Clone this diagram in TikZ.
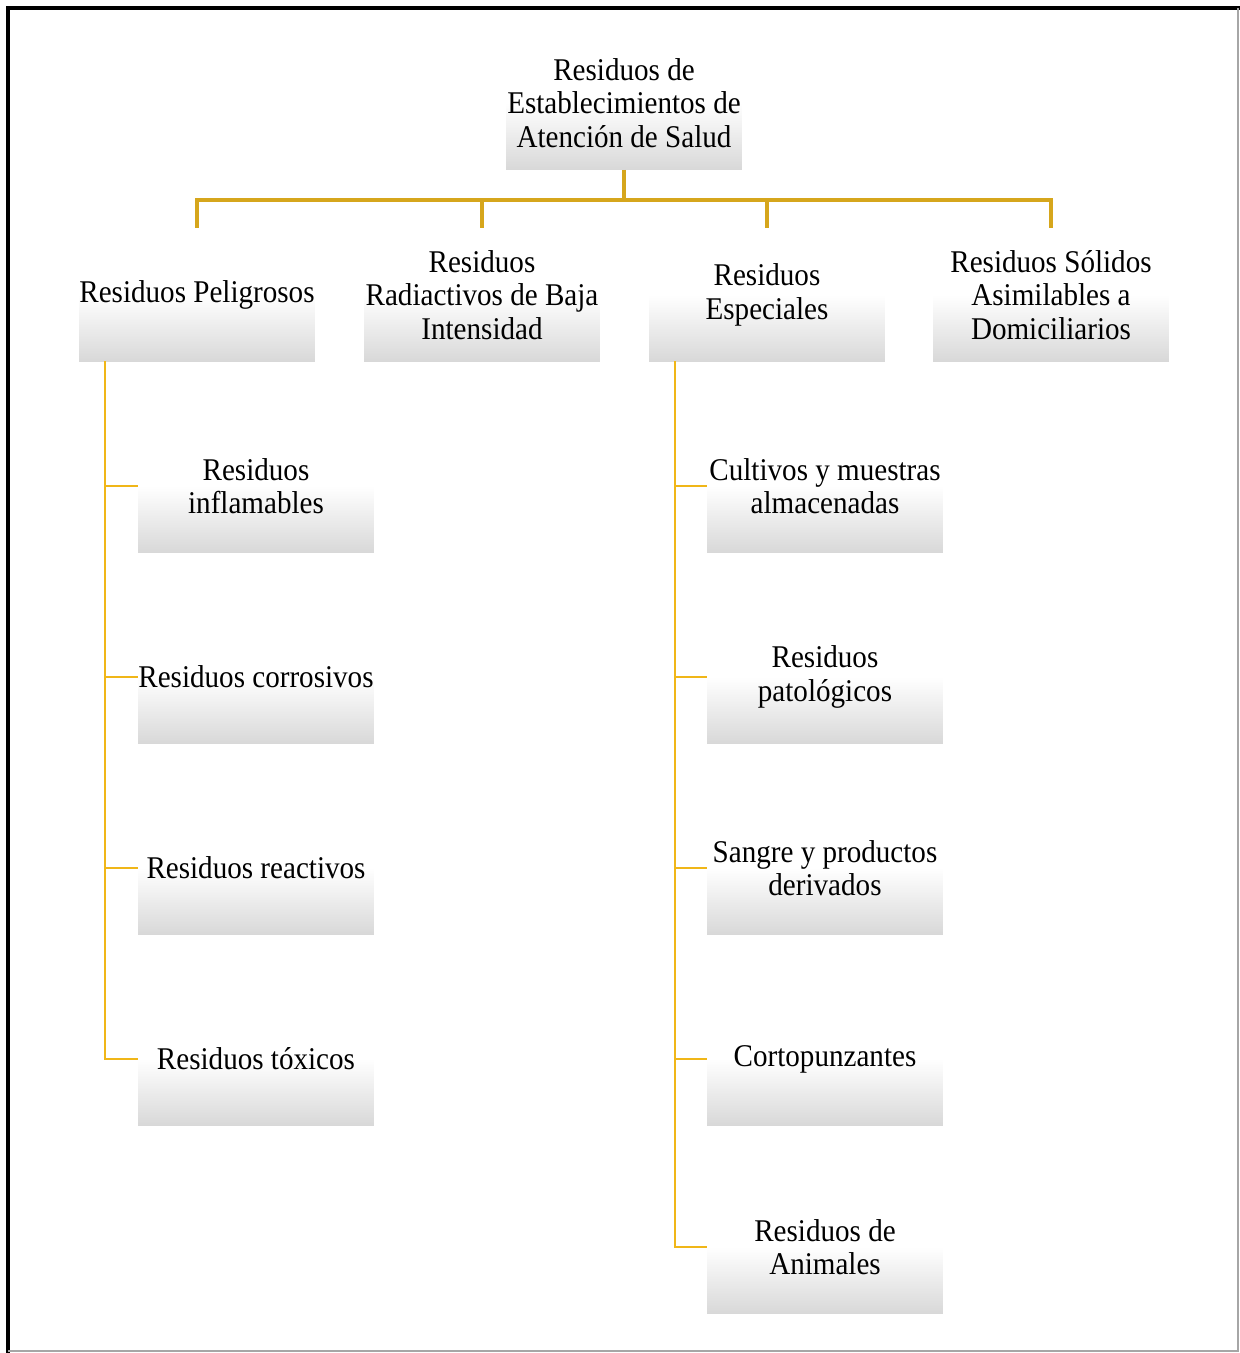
\documentclass[tikz,border=0pt]{standalone}
\usepackage{fontspec}
\setmainfont{Liberation Serif}[FakeStretch=0.92]
\usepackage{tikz}
\definecolor{linkgold}{RGB}{214,166,28}
\definecolor{stemgold}{RGB}{240,182,24}
\definecolor{boxgray}{RGB}{216,216,216}

\begin{document}
\begin{tikzpicture}[x=0.02cm,y=-0.02cm]
\tikzstyle{every node}+=[inner sep=0pt]
\tikzstyle{wbox}=[rectangle,minimum width=4.72cm,minimum height=2.66cm,
  top color=white,bottom color=boxgray,middle color=white,
  align=center,font=\fontsize{18}{19}\selectfont]
\tikzstyle{toplink}=[draw=linkgold,line width=2pt]
\tikzstyle{sublink}=[draw=stemgold,line width=1.5pt]
\useasboundingbox (0,0) rectangle (1240,1353);
% frame
\draw [black,line width=2.6pt] (8,1353) -- (8,8) -- (1240,8);
\draw [gray!70,line width=0.8pt] (1238,8) -- (1238,1351) -- (8,1351);
% root
\node [wbox] (root) at (624,103) {Residuos de\\Establecimientos de\\Atención de Salud};
% first level
\node [wbox] (pel) at (197,295) {Residuos Peligrosos};
\node [wbox] (rad) at (482,295) {Residuos\\Radiactivos de Baja\\Intensidad};
\node [wbox] (esp) at (767,295) {Residuos\\Especiales};
\node [wbox] (sol) at (1051,295) {Residuos Sólidos\\Asimilables a\\Domiciliarios};
% peligrosos
\node [wbox] (inf) at (256,486) {Residuos\\inflamables};
\node [wbox] (cor) at (256,677) {Residuos corrosivos};
\node [wbox] (rea) at (256,868) {Residuos reactivos};
\node [wbox] (tox) at (256,1059) {Residuos tóxicos};
% especiales
\node [wbox] (cul) at (825,486) {Cultivos y muestras\\almacenadas};
\node [wbox] (pat) at (825,677) {Residuos\\patológicos};
\node [wbox] (san) at (825,868) {Sangre y productos\\derivados};
\node [wbox] (cor2) at (825,1059) {Cortopunzantes};
\node [wbox] (ani) at (825,1247) {Residuos de\\Animales};
% links
\coordinate (bar) at (624,200);
\draw [toplink] (root.south) -- (bar);
\foreach \n in {pel,rad,esp,sol}
  \draw [toplink] (bar) -| (\n.north);
\coordinate (pelstem) at (105,361);
\foreach \n in {inf,cor,rea,tox}
  \draw [sublink] (pelstem) |- (\n.west);
\coordinate (espstem) at (675,361);
\foreach \n in {cul,pat,san,cor2,ani}
  \draw [sublink] (espstem) |- (\n.west);
\end{tikzpicture}
\end{document}
